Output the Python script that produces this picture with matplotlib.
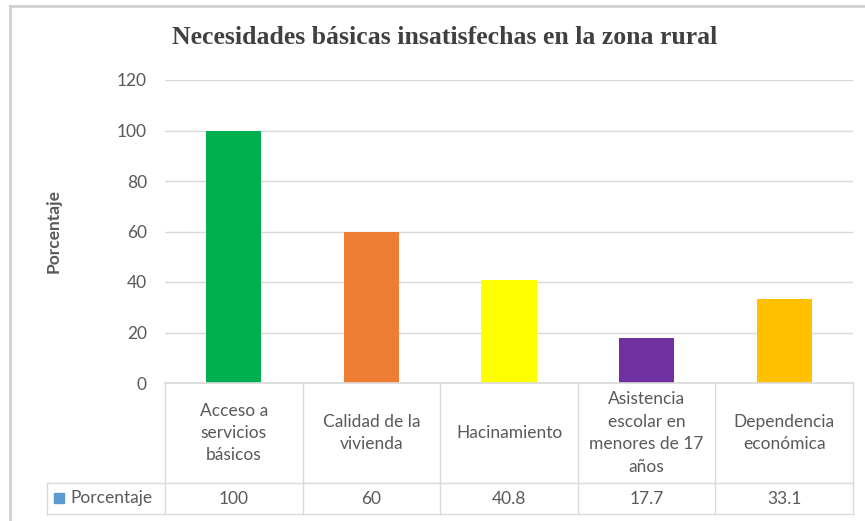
import matplotlib.pyplot as plt
import matplotlib.transforms as mtransforms
from matplotlib.lines import Line2D
from matplotlib.patches import Rectangle

categories = ["Acceso a\nservicios\nbásicos", "Calidad de la\nvivienda", "Hacinamiento",
              "Asistencia\nescolar en\nmenores de 17\naños", "Dependencia\neconómica"]
values = [100, 60, 40.8, 17.7, 33.1]
value_labels = ["100", "60", "40.8", "17.7", "33.1"]
bar_colors = ["#00B050", "#ED7D31", "#FFFF00", "#7030A0", "#FFC000"]
series_name = "Porcentaje"
yticks = [0, 20, 40, 60, 80, 100, 120]

TEXT = "#595959"
GRID = "#D9D9D9"
FONT = "Lato"
FS = 12.5

W, H = 865, 521
fig = plt.figure(figsize=(W / 100, H / 100), dpi=100, facecolor="white")


def fx(px):
    return px / W


def fy(py):
    return 1 - py / H


# outer chart border (left and top visible)
fig.add_artist(Line2D([fx(10), fx(10)], [fy(6), 0], color="#D0D0D0", lw=2))
fig.add_artist(Line2D([fx(10), 1], [fy(6), fy(6)], color="#D0D0D0", lw=2))

ax = fig.add_axes([fx(165), fy(383), fx(853) - fx(165), fy(80) - fy(383)])
n = len(values)
x = [i + 0.5 for i in range(n)]
ax.bar(x, values, width=0.4, color=bar_colors, zorder=3)
ax.set_xlim(0, n)
ax.set_ylim(0, 120)
ax.set_yticks(yticks)
ax.set_yticklabels([str(t) for t in yticks], fontsize=FS, color=TEXT, family=FONT)
ax.set_xticks([])
ax.tick_params(axis="y", length=0, pad=13)
for s in ax.spines.values():
    s.set_visible(False)
ax.grid(axis="y", color=GRID, lw=1, zorder=0)
ax.set_ylabel("Porcentaje", fontsize=FS, color=TEXT, family=FONT, fontweight="bold")
ax.yaxis.set_label_coords((62 - 165) / 688, (383 - 231) / 303)

fig.text(fx(445), fy(38), "Necesidades básicas insatisfechas en la zona rural",
         ha="center", va="center", fontsize=18.5, fontweight="bold",
         color="#404040", family="Liberation Serif")

# data table below the axis
tr = mtransforms.blended_transform_factory(ax.transData, fig.transFigure)
y_top, y_mid, y_bot = fy(383), fy(483), fy(514)
for i in range(n + 1):
    fig.add_artist(Line2D([i, i], [y_top, y_bot], transform=tr, color=GRID, lw=1))
fig.add_artist(Line2D([0, n], [y_top, y_top], transform=tr, color=GRID, lw=1.2))
for yy in (y_mid, y_bot):
    fig.add_artist(Line2D([fx(47), fx(853)], [yy, yy], color=GRID, lw=1))
fig.add_artist(Line2D([fx(47), fx(47)], [y_mid, y_bot], color=GRID, lw=1))

for xi, cat, lab in zip(x, categories, value_labels):
    fig.text(xi, (y_top + y_mid) / 2, cat, transform=tr, ha="center", va="center",
             fontsize=FS, color=TEXT, family=FONT, linespacing=1.5)
    fig.text(xi, (y_mid + y_bot) / 2, lab, transform=tr, ha="center", va="center",
             fontsize=FS, color=TEXT, family=FONT)

fig.add_artist(Rectangle((fx(54), fy(503)), fx(10), fy(493) - fy(503),
                         color="#5B9BD5", transform=fig.transFigure))
fig.text(fx(70), (y_mid + y_bot) / 2, series_name, ha="left", va="center",
         fontsize=FS, color=TEXT, family=FONT)

fig.savefig("out.png", dpi=100, facecolor="white")
